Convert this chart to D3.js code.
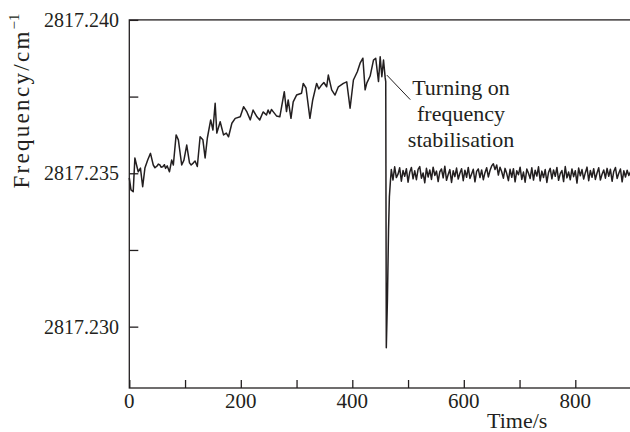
<!DOCTYPE html>
<html>
<head>
<meta charset="utf-8">
<script src="https://cdn.jsdelivr.net/npm/d3@7"></script>
<style>
  body { margin: 0; background: #fff; }
  text { font-family: "Liberation Serif", "DejaVu Serif", serif; fill: #231f20; }
</style>
</head>
<body>
<svg id="chart" width="630" height="432"></svg>
<script>
// free running part, time in s and frequency in cm-1
const driftTimes = [0, 3, 7, 10, 13, 16, 20, 24, 28, 33, 38, 43, 46, 50, 52, 55, 57, 60, 63, 65, 68, 72, 76, 79, 84, 88, 94, 98,
    103, 108, 111, 115, 118, 122, 127, 132, 136, 140, 146, 150, 154, 157, 163, 169, 174, 178, 184, 190, 199, 205, 211, 217,
    222, 229, 234, 240, 246, 249, 252, 255, 258, 264, 270, 278, 282, 285, 290, 294, 300, 309, 312, 317, 324, 329, 336, 340,
    345, 349, 354, 357, 363, 369, 375, 384, 390, 396, 402, 409, 414, 419, 423, 426, 432, 438, 442, 447, 450, 453, 456, 459,
    460, 461, 463, 465, 466.5, 468.5]
const driftValues = [2817.23485, 2817.23446, 2817.2344, 2817.2355, 2817.23527, 2817.23505, 2817.23517, 2817.23456, 2817.23517,
    2817.23543, 2817.23565, 2817.23527, 2817.23518, 2817.23524, 2817.2353, 2817.23527, 2817.2352, 2817.23521, 2817.23528,
    2817.23516, 2817.23524, 2817.23505, 2817.23543, 2817.23527, 2817.23625, 2817.23609, 2817.23527, 2817.23543, 2817.23592,
    2817.23534, 2817.23527, 2817.23534, 2817.2354, 2817.23522, 2817.23619, 2817.23609, 2817.2355, 2817.23615, 2817.23674,
    2817.23641, 2817.23728, 2817.23631, 2817.23668, 2817.23625, 2817.23631, 2817.23619, 2817.23663, 2817.23679, 2817.23684,
    2817.23717, 2817.237, 2817.23674, 2817.23706, 2817.23684, 2817.23674, 2817.237, 2817.2369, 2817.23706, 2817.23694,
    2817.23708, 2817.23701, 2817.23687, 2817.23684, 2817.23766, 2817.23701, 2817.23739, 2817.23679, 2817.23733, 2817.23755,
    2817.23761, 2817.23793, 2817.23778, 2817.23679, 2817.23739, 2817.23793, 2817.23775, 2817.23788, 2817.23796, 2817.23782,
    2817.2382, 2817.23772, 2817.23755, 2817.23782, 2817.23793, 2817.23798, 2817.23712, 2817.23804, 2817.23831, 2817.23859,
    2817.23875, 2817.23772, 2817.23794, 2817.23817, 2817.23869, 2817.23875, 2817.23799, 2817.2388, 2817.23815, 2817.23869,
    2817.23811, 2817.23799, 2817.22931, 2817.23087, 2817.23315, 2817.23423, 2817.23478]

// stabilised part, one reading every 3 s from 470 s
const lockStart = 470
const lockStep = 3
const lockValues = [2817.23512, 2817.23478, 2817.23521, 2817.23486, 2817.23497, 2817.23518, 2817.23474, 2817.23509, 2817.2349,
    2817.23515, 2817.23471, 2817.23503, 2817.23519, 2817.23482, 2817.23508, 2817.23479, 2817.23513, 2817.23522, 2817.23484,
    2817.23501, 2817.23469, 2817.23516, 2817.23488, 2817.23511, 2817.2348, 2817.2352, 2817.23493, 2817.23507, 2817.23473,
    2817.23505, 2817.23514, 2817.23485, 2817.23523, 2817.23477, 2817.23496, 2817.23512, 2817.2347, 2817.23508, 2817.23489,
    2817.23517, 2817.23481, 2817.235, 2817.23515, 2817.23476, 2817.2351, 2817.23487, 2817.23519, 2817.23483, 2817.23498,
    2817.23513, 2817.23472, 2817.23506, 2817.23514, 2817.23486, 2817.23511, 2817.23479, 2817.23502, 2817.23518, 2817.23488,
    2817.23509, 2817.23524, 2817.23531, 2817.23512, 2817.23527, 2817.23494, 2817.2352, 2817.23505, 2817.23484, 2817.23516,
    2817.23499, 2817.23476, 2817.23513, 2817.23487, 2817.23515, 2817.23472, 2817.23508, 2817.23495, 2817.2352, 2817.2348,
    2817.23504, 2817.23471, 2817.23514, 2817.235, 2817.23483, 2817.23518, 2817.23478, 2817.2351, 2817.23491, 2817.23521,
    2817.23475, 2817.23507, 2817.23486, 2817.23512, 2817.2347, 2817.23503, 2817.23516, 2817.23482, 2817.23511, 2817.2349,
    2817.23519, 2817.23477, 2817.23499, 2817.23509, 2817.23473, 2817.23522, 2817.23485, 2817.23504, 2817.23479, 2817.23514,
    2817.23489, 2817.23508, 2817.23468, 2817.23517, 2817.23492, 2817.23512, 2817.23481, 2817.23502, 2817.2352, 2817.23476,
    2817.23509, 2817.23487, 2817.23515, 2817.2348, 2817.23501, 2817.23518, 2817.23478, 2817.23497, 2817.23511, 2817.23484,
    2817.23516, 2817.2349, 2817.23513, 2817.23474, 2817.23506, 2817.23519, 2817.23483, 2817.235, 2817.23514, 2817.23472,
    2817.23508, 2817.23488, 2817.2351, 2817.23493, 2817.23505]

const xTicks = [0, 200, 400, 600, 800]
const xMinor = [100, 300, 500, 700]
const yTicks = [2817.230, 2817.235, 2817.240]
const yMinor = [2817.2325, 2817.2375]
const noteLines = ['Turning on', 'frequency', 'stabilisation']

let points = driftTimes.map((t, i) => [t, driftValues[i]])
lockValues.forEach((v, i) => points.push([lockStart + i * lockStep, v]))

let svg = d3.select('#chart')
let padLeft = 129.3, padTop = 19.9, padBottom = 388
let ink = '#231f20'

let x = d3.scaleLinear().domain([0, 900]).range([padLeft, padLeft + 900 / 200 * 111.5])
let y = d3.scaleLinear().domain([2817.228, 2817.240]).range([padBottom, padTop])

// frame
svg.append('rect')
    .attr('x', x(0)).attr('y', y(2817.240))
    .attr('width', x(900) - x(0)).attr('height', y(2817.228) - y(2817.240))
    .attr('fill', 'none').attr('stroke', ink).attr('stroke-width', 1.3)

// ticks point inward
svg.append('g')
    .attr('transform', 'translate(0,' + padBottom + ')')
    .call(d3.axisBottom(x).tickValues(xTicks.concat(xMinor)).tickSizeInner(-8).tickSizeOuter(0).tickFormat(''))
    .call(g => g.select('.domain').remove())
    .call(g => g.selectAll('line').attr('stroke', ink).attr('stroke-width', 1.3))

svg.append('g')
    .attr('transform', 'translate(' + padLeft + ',0)')
    .call(d3.axisLeft(y).tickValues(yTicks.concat(yMinor)).tickSizeInner(-9).tickSizeOuter(0).tickFormat(''))
    .call(g => g.select('.domain').remove())
    .call(g => g.selectAll('line').attr('stroke', ink).attr('stroke-width', 1.3))

svg.selectAll('.xlab')
    .data(xTicks)
    .enter()
    .append('text')
    .attr('x', d => x(d))
    .attr('y', 408)
    .attr('text-anchor', 'middle')
    .style('font-size', '21px')
    .text(d => d)

svg.selectAll('.ylab')
    .data(yTicks)
    .enter()
    .append('text')
    .attr('x', 119)
    .attr('y', d => y(d) + 7)
    .attr('text-anchor', 'end')
    .style('font-size', '20px')
    .text(d => d3.format('.3f')(d))

svg.append('text')
    .attr('x', 487)
    .attr('y', 428)
    .style('font-size', '22px')
    .text('Time/s')

let ytitle = svg.append('text')
    .attr('transform', 'translate(29,101) rotate(-90)')
    .attr('text-anchor', 'middle')
    .style('font-size', '23px')
    .style('letter-spacing', '2.3px')
ytitle.append('tspan').text('Frequency/cm')
ytitle.append('tspan').attr('dy', -10).style('font-size', '15px').style('letter-spacing', '0px').text('\u22121')

// trace
let line = d3.line()
    .x(d => x(d[0]))
    .y(d => y(d[1]))

svg.append('path')
    .datum(points)
    .attr('d', line)
    .attr('fill', 'none')
    .attr('stroke', ink)
    .attr('stroke-width', 1.5)
    .attr('stroke-linejoin', 'round')

// annotation
svg.append('line')
    .attr('x1', x(462)).attr('y1', y(2817.2382))
    .attr('x2', x(504)).attr('y2', y(2817.2374))
    .attr('stroke', ink).attr('stroke-width', 1)

svg.selectAll('.note')
    .data(noteLines)
    .enter()
    .append('text')
    .attr('x', 461)
    .attr('y', (d, i) => 95 + i * 25.8)
    .attr('text-anchor', 'middle')
    .style('font-size', '22px')
    .text(d => d)
</script>
</body>
</html>
